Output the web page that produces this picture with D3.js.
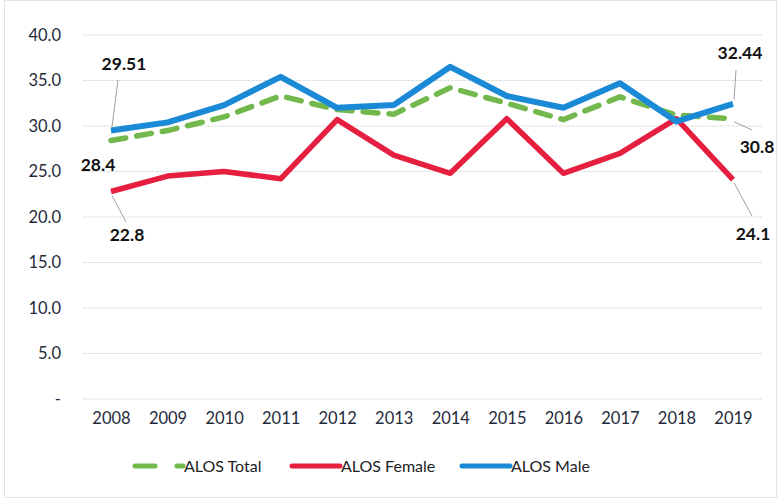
<!DOCTYPE html>
<html>
<head>
	<title>ALOS</title>
	<script type="text/javascript" src="https://d3js.org/d3.v7.min.js"></script>
	<style type="text/css">
		body { margin: 0; background: #fff; }
		.axis path, .axis line { fill: none; stroke: none; }
		.axis text { font-family: Lato, "Open Sans", sans-serif; font-size: 16.5px; fill: #1f2a3a; }
		.lbl { font-family: Lato, "Open Sans", sans-serif; font-size: 17.5px; font-weight: bold; fill: #111; }
		.legend text { font-family: Lato, "Open Sans", sans-serif; font-size: 16px; fill: #222; }
	</style>
</head>
<body>
	<script type="text/javascript">
		var years = [2008, 2009, 2010, 2011, 2012, 2013, 2014, 2015, 2016, 2017, 2018, 2019];
		var alos_total  = [28.4, 29.5, 31.0, 33.3, 31.8, 31.3, 34.2, 32.5, 30.7, 33.2, 31.2, 30.8];
		var alos_female = [22.8, 24.5, 25.0, 24.2, 30.7, 26.8, 24.8, 30.8, 24.8, 27.0, 30.8, 24.1];
		var alos_male   = [29.51, 30.4, 32.3, 35.4, 32.0, 32.3, 36.5, 33.3, 32.0, 34.7, 30.5, 32.44];
		var y_ticks = [0, 5, 10, 15, 20, 25, 30, 35, 40];

		var outer_width = 778;
		var outer_height = 499;

		var svg = d3.select("body")
					.append("svg")
					.attr("width", outer_width)
					.attr("height", outer_height);

		// faint scan border
		svg.append("rect")
			.attr("x", 4.5).attr("y", 0.5)
			.attr("width", 772).attr("height", 497)
			.style("fill", "none")
			.style("stroke", "#e4e4e4");

		var xScale = d3.scalePoint()
						.domain(years)
						.range([111, 733]);

		var yScale = d3.scaleLinear()
						.domain([0, 40])
						.range([399, 35]);

		// gridlines
		svg.append("g")
			.selectAll("line")
			.data(y_ticks)
			.enter()
			.append("line")
			.attr("x1", 83).attr("x2", 763)
			.attr("y1", function(d){ return yScale(d); })
			.attr("y2", function(d){ return yScale(d); })
			.style("stroke", "#dcdcdc")
			.style("stroke-width", 1)
			.style("stroke-dasharray", "3,1");

		var yaxis = d3.axisLeft(yScale)
						.tickValues(y_ticks)
						.tickSize(0)
						.tickPadding(0)
						.tickFormat(function(d){ return d == 0 ? "-" : d3.format(".1f")(d); });

		svg.append("g")
			.attr("class", "axis")
			.attr("transform", "translate(61,0)")
			.call(yaxis);

		var xaxis = d3.axisBottom(xScale)
						.tickSize(0)
						.tickPadding(0);

		svg.append("g")
			.attr("class", "axis")
			.attr("transform", "translate(0,412)")
			.call(xaxis);

		var series = [
			{name: "ALOS Total", values: alos_total, color: "#72b84c", width: 5.5, dash: "15,11"},
			{name: "ALOS Female", values: alos_female, color: "#e61e40", width: 5.5, dash: null},
			{name: "ALOS Male", values: alos_male, color: "#1a8ad6", width: 6, dash: null}
		];

		var line = d3.line()
					.x(function(d, i){ return xScale(years[i]); })
					.y(function(d){ return yScale(d); });

		svg.selectAll(".series")
			.data(series)
			.enter()
			.append("path")
			.attr("class", "series")
			.attr("d", function(d){ return line(d.values); })
			.style("fill", "none")
			.style("stroke", function(d){ return d.color; })
			.style("stroke-width", function(d){ return d.width; })
			.style("stroke-linecap", function(d){ return d.dash ? "round" : "butt"; })
			.style("stroke-linejoin", "round")
			.style("stroke-dasharray", function(d){ return d.dash; });

		// data labels with leader lines
		var labels = [
			{text: "29.51", year: 2008, value: alos_male[0], lx: 124, ly: 70, from: [118, 80], dy: -4},
			{text: "28.4", year: 2008, value: alos_total[0], lx: 98, ly: 171, from: null, dy: 0},
			{text: "22.8", year: 2008, value: alos_female[0], lx: 127, ly: 241, from: [126, 222], dy: 4},
			{text: "32.44", year: 2019, value: alos_male[11], lx: 740, ly: 59, from: [736, 70], dy: -4},
			{text: "30.8", year: 2019, value: alos_total[11], lx: 757, ly: 153, from: [752, 130], dy: 3},
			{text: "24.1", year: 2019, value: alos_female[11], lx: 753, ly: 240, from: [752, 216], dy: 3}
		];

		labels.forEach(function(l){
			if (l.from) {
				svg.append("line")
					.attr("x1", xScale(l.year) + 1)
					.attr("y1", yScale(l.value) + l.dy)
					.attr("x2", l.from[0])
					.attr("y2", l.from[1])
					.style("stroke", "#888")
					.style("stroke-width", 0.8);
			}
			svg.append("text")
				.attr("class", "lbl")
				.attr("x", l.lx)
				.attr("y", l.ly)
				.attr("text-anchor", "middle")
				.text(l.text);
		});

		// legend
		var legendX = [133, 290, 460];
		var legend = svg.append("g").attr("class", "legend");
		series.forEach(function(s, i){
			var g = legend.append("g").attr("transform", "translate(" + legendX[i] + ",466)");
			g.append("line")
				.attr("x1", 2).attr("x2", 50)
				.attr("y1", 0).attr("y2", 0)
				.style("stroke", s.color)
				.style("stroke-width", 5)
				.style("stroke-linecap", "round")
				.style("stroke-dasharray", s.dash ? "20,22" : null);
			g.append("text")
				.attr("x", 51)
				.attr("y", 5.5)
				.text(s.name);
		});
	</script>
</body>
</html>
